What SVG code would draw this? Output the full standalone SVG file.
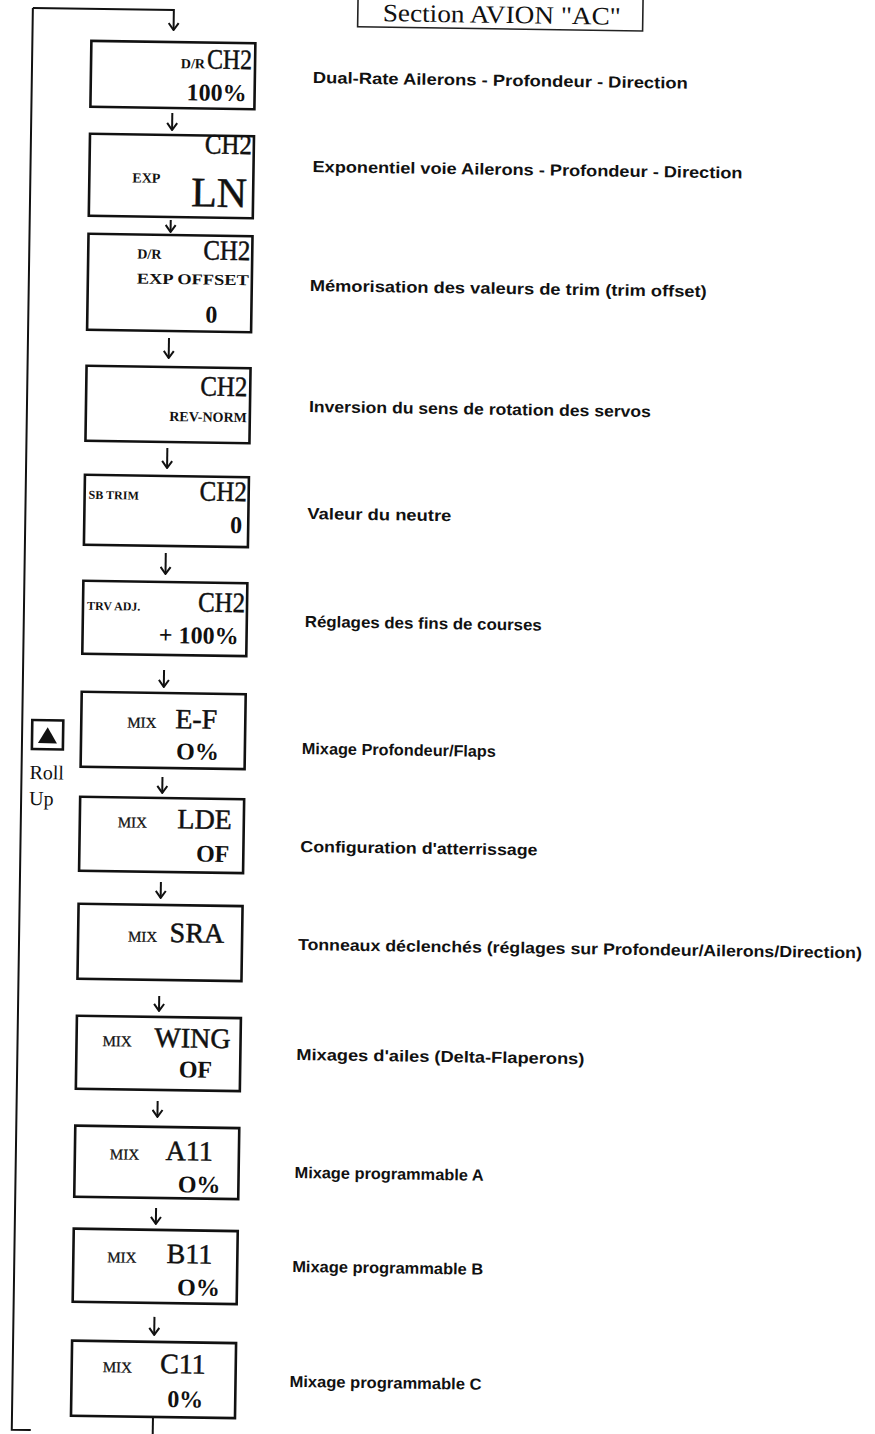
<svg xmlns="http://www.w3.org/2000/svg" width="875" height="1434" viewBox="0 0 875 1434">
<style>
.box{fill:#fff;stroke:#111;stroke-width:2.6}
.tbox{fill:#fff;stroke:#222;stroke-width:1.6}
.conn{fill:none;stroke:#111;stroke-width:2}
.big{font-family:"Liberation Serif",serif;font-size:28px;fill:#111;stroke:#111;stroke-width:0.5}
.sc{font-family:"Liberation Serif",serif;font-size:14px;font-weight:bold;fill:#111}
.mix{font-family:"Liberation Serif",serif;font-size:15px;fill:#111;stroke:#111;stroke-width:0.3}
.val{font-family:"Liberation Serif",serif;font-size:24px;font-weight:bold;fill:#111}
.lbl{font-family:"Liberation Sans",sans-serif;font-size:16px;font-weight:bold;fill:#111}
.title{font-family:"Liberation Serif",serif;font-size:25px;fill:#111}
.roll{font-family:"Liberation Serif",serif;font-size:20px;fill:#111}
</style>
<defs>
<marker id="ah" viewBox="0 0 9 12" refX="8" refY="6" markerWidth="9" markerHeight="12" markerUnits="userSpaceOnUse" orient="auto">
<path d="M1,1 L8,6 L1,11" fill="none" stroke="#111" stroke-width="2"/>
</marker>
</defs>
<rect width="875" height="1434" fill="#fff"/>
<g transform="rotate(0.85 172 0)">
<g id="title">
<rect class="tbox" x="358" y="-10" width="285" height="34"/>
<text class="title" x="383" y="18" textLength="238" lengthAdjust="spacingAndGlyphs">Section AVION  "AC"</text>
</g>
<g id="connectors">
<path class="conn" d="M33,10 H174 V30" marker-end="url(#ah)"/>
<path class="conn" d="M33,10 V1432 H52"/>
<line class="conn" x1="174" y1="113" x2="174" y2="130" marker-end="url(#ah)"/>
<line class="conn" x1="174" y1="220" x2="174" y2="232" marker-end="url(#ah)"/>
<line class="conn" x1="174" y1="338" x2="174" y2="358" marker-end="url(#ah)"/>
<line class="conn" x1="174" y1="448" x2="174" y2="468" marker-end="url(#ah)"/>
<line class="conn" x1="174" y1="553" x2="174" y2="574" marker-end="url(#ah)"/>
<line class="conn" x1="174" y1="670" x2="174" y2="687" marker-end="url(#ah)"/>
<line class="conn" x1="174" y1="777" x2="174" y2="793" marker-end="url(#ah)"/>
<line class="conn" x1="174" y1="882" x2="174" y2="898" marker-end="url(#ah)"/>
<line class="conn" x1="174" y1="996" x2="174" y2="1011" marker-end="url(#ah)"/>
<line class="conn" x1="174" y1="1101" x2="174" y2="1117" marker-end="url(#ah)"/>
<line class="conn" x1="174" y1="1208" x2="174" y2="1224" marker-end="url(#ah)"/>
<line class="conn" x1="174" y1="1317" x2="174" y2="1335" marker-end="url(#ah)"/>
<line class="conn" x1="174" y1="1417" x2="174" y2="1445"/>
</g>
<g id="rollup">
<rect class="box" x="43" y="722" width="31" height="29"/>
<path d="M58.5,729 L68,745 L49,745 Z" fill="#111"/>
<text class="roll" x="41" y="781">Roll</text>
<text class="roll" x="41" y="807">Up</text>
</g>
<g id="n1">
<rect class="box" x="92" y="42" width="164" height="66"/>
<text class="sc" x="206" y="68" text-anchor="end">D/R</text>
<text class="big" x="253" y="68" text-anchor="end" textLength="45" lengthAdjust="spacingAndGlyphs">CH2</text>
<text class="val" x="248" y="100" text-anchor="end">100%</text>
<text class="lbl" x="314" y="81" textLength="375" lengthAdjust="spacingAndGlyphs">Dual-Rate Ailerons - Profondeur - Direction</text>
</g>
<g id="n2">
<rect class="box" x="92" y="135" width="164" height="82"/>
<text class="big" x="254" y="153" text-anchor="end" textLength="47" lengthAdjust="spacingAndGlyphs">CH2</text>
<text class="sc" x="135" y="183">EXP</text>
<text class="big" x="250" y="206" text-anchor="end" style="font-size:42px">LN</text>
<text class="lbl" x="315" y="170" textLength="430" lengthAdjust="spacingAndGlyphs">Exponentiel voie Ailerons - Profondeur - Direction</text>
</g>
<g id="n3">
<rect class="box" x="92" y="235" width="164" height="96"/>
<text class="sc" x="141" y="259">D/R</text>
<text class="big" x="254" y="259" text-anchor="end" textLength="47" lengthAdjust="spacingAndGlyphs">CH2</text>
<text class="sc" x="141" y="284" style="font-size:15px" textLength="112" lengthAdjust="spacingAndGlyphs">EXP OFFSET</text>
<text class="val" x="216" y="322" text-anchor="middle">0</text>
<text class="lbl" x="314" y="289" textLength="397" lengthAdjust="spacingAndGlyphs">Mémorisation des valeurs de trim (trim offset)</text>
</g>
<g id="n4">
<rect class="box" x="92" y="367" width="164" height="75"/>
<text class="big" x="253" y="395" text-anchor="end" textLength="47" lengthAdjust="spacingAndGlyphs">CH2</text>
<text class="sc" x="253" y="421" text-anchor="end">REV-NORM</text>
<text class="lbl" x="315" y="410" textLength="342" lengthAdjust="spacingAndGlyphs">Inversion du sens de rotation des servos</text>
</g>
<g id="n5">
<rect class="box" x="92" y="476" width="164" height="70"/>
<text class="sc" x="96" y="500" style="font-size:12px">SB TRIM</text>
<text class="big" x="254" y="500" text-anchor="end" textLength="47" lengthAdjust="spacingAndGlyphs">CH2</text>
<text class="val" x="250" y="532" text-anchor="end">0</text>
<text class="lbl" x="315" y="517" textLength="144" lengthAdjust="spacingAndGlyphs">Valeur du neutre</text>
</g>
<g id="n6">
<rect class="box" x="92" y="582" width="164" height="73"/>
<text class="sc" x="96" y="611" style="font-size:12px">TRV ADJ.</text>
<text class="big" x="254" y="611" text-anchor="end" textLength="47" lengthAdjust="spacingAndGlyphs">CH2</text>
<text class="val" x="248" y="643" text-anchor="end">+ 100%</text>
<text class="lbl" x="314" y="625" textLength="237" lengthAdjust="spacingAndGlyphs">Réglages des fins de courses</text>
</g>
<g id="n7">
<rect class="box" x="92" y="693" width="164" height="75"/>
<text class="mix" x="138" y="728">MIX</text>
<text class="big" x="228" y="728" text-anchor="end">E-F</text>
<text class="val" x="230" y="759" text-anchor="end">O%</text>
<text class="lbl" x="313" y="752" textLength="194" lengthAdjust="spacingAndGlyphs">Mixage Profondeur/Flaps</text>
</g>
<g id="n8">
<rect class="box" x="92" y="798" width="164" height="74"/>
<text class="mix" x="130" y="828">MIX</text>
<text class="big" x="244" y="828" text-anchor="end">LDE</text>
<text class="val" x="242" y="861" text-anchor="end">OF</text>
<text class="lbl" x="313" y="850" textLength="237" lengthAdjust="spacingAndGlyphs">Configuration d'atterrissage</text>
</g>
<g id="n9">
<rect class="box" x="92" y="905" width="164" height="75"/>
<text class="mix" x="142" y="942">MIX</text>
<text class="big" x="238" y="942" text-anchor="end">SRA</text>
<text class="lbl" x="312" y="948" textLength="564" lengthAdjust="spacingAndGlyphs">Tonneaux déclenchés (réglages sur Profondeur/Ailerons/Direction)</text>
</g>
<g id="n10">
<rect class="box" x="92" y="1017" width="164" height="73"/>
<text class="mix" x="118" y="1047">MIX</text>
<text class="big" x="246" y="1047" text-anchor="end">WING</text>
<text class="val" x="228" y="1077" text-anchor="end">OF</text>
<text class="lbl" x="312" y="1058" textLength="288" lengthAdjust="spacingAndGlyphs">Mixages d'ailes (Delta-Flaperons)</text>
</g>
<g id="n11">
<rect class="box" x="92" y="1127" width="164" height="71"/>
<text class="mix" x="127" y="1160">MIX</text>
<text class="big" x="230" y="1160" text-anchor="end">A11</text>
<text class="val" x="238" y="1192" text-anchor="end">O%</text>
<text class="lbl" x="312" y="1176" textLength="189" lengthAdjust="spacingAndGlyphs">Mixage programmable A</text>
</g>
<g id="n12">
<rect class="box" x="92" y="1230" width="164" height="73"/>
<text class="mix" x="126" y="1263">MIX</text>
<text class="big" x="231" y="1263" text-anchor="end">B11</text>
<text class="val" x="239" y="1295" text-anchor="end">O%</text>
<text class="lbl" x="311" y="1270" textLength="191" lengthAdjust="spacingAndGlyphs">Mixage programmable B</text>
</g>
<g id="n13">
<rect class="box" x="92" y="1342" width="164" height="75"/>
<text class="mix" x="123" y="1373">MIX</text>
<text class="big" x="226" y="1373" text-anchor="end">C11</text>
<text class="val" x="224" y="1407" text-anchor="end">0%</text>
<text class="lbl" x="310" y="1385" textLength="192" lengthAdjust="spacingAndGlyphs">Mixage programmable C</text>
</g>
</g>
</svg>
